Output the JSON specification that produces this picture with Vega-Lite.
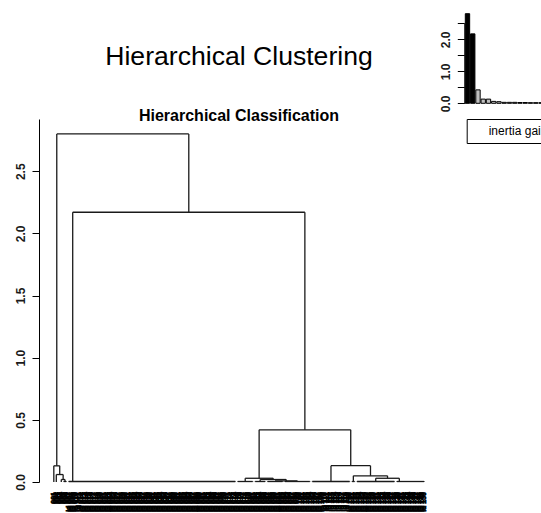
{
"$schema": "https://vega.github.io/schema/vega-lite/v6.json",
"width": 400,
"height": 363,
"autosize": {"type": "none"},
"padding": {"left": 39, "top": 119, "right": 102, "bottom": 31},
"background": "white",
"title": {"text": "Hierarchical Clustering", "subtitle": "Hierarchical Classification", "anchor": "middle", "frame": "group", "font": "Liberation Sans", "fontSize": 26.6, "fontWeight": "normal", "color": "black", "subtitleFont": "Liberation Sans", "subtitleFontSize": 16, "subtitleFontWeight": "bold", "subtitleColor": "black", "subtitlePadding": 38, "offset": -113.5},
"config": {"view": {"stroke": null}, "axis": {"labelFont": "Liberation Sans", "labelFontSize": 12, "labelFontWeight": "bold", "labelColor": "#1a1a1a", "domainColor": "black", "tickColor": "black", "tickSize": 7, "labelAngle": 270, "labelPadding": 5, "grid": false}},
"datasets": {
"merges": [
{"l": 2.19, "r": 55.3, "h": 2.80, "hl": 0.13, "hr": 2.17},
{"l": 8.6, "r": 102.0, "h": 2.17, "hl": 0.004, "hr": 0.42},
{"l": 83.6, "r": 120.45, "h": 0.42, "hl": 0.03, "hr": 0.131},
{"l": 78, "r": 89.25, "h": 0.03, "hl": 0.004, "hr": 0.02},
{"l": 84, "r": 94.5, "h": 0.02, "hl": 0.004, "hr": 0.009},
{"l": 90, "r": 99, "h": 0.009, "hl": 0.004, "hr": 0.004},
{"l": 112.5, "r": 128.4, "h": 0.131, "hl": 0.004, "hr": 0.05},
{"l": 121.5, "r": 135.25, "h": 0.05, "hl": 0.004, "hr": 0.03},
{"l": 130.5, "r": 140, "h": 0.03, "hl": 0.004, "hr": 0.004},
{"l": 1, "r": 3.375, "h": 0.13, "hl": 0, "hr": 0.06},
{"l": 2, "r": 4.75, "h": 0.06, "hl": 0, "hr": 0.02},
{"l": 4, "r": 5.5, "h": 0.02, "hl": 0, "hr": 0.004},
{"l": 5, "r": 6, "h": 0.004, "hl": 0, "hr": 0},
{"l": 7, "r": 74, "h": 0.004, "hl": 0, "hr": 0},
{"l": 75, "r": 81, "h": 0.004, "hl": 0, "hr": 0},
{"l": 82, "r": 86, "h": 0.004, "hl": 0, "hr": 0},
{"l": 87, "r": 93, "h": 0.004, "hl": 0, "hr": 0},
{"l": 94, "r": 104, "h": 0.004, "hl": 0, "hr": 0},
{"l": 105, "r": 120, "h": 0.004, "hl": 0, "hr": 0},
{"l": 121, "r": 122, "h": 0.004, "hl": 0, "hr": 0},
{"l": 123, "r": 138, "h": 0.004, "hl": 0, "hr": 0},
{"l": 139, "r": 150, "h": 0.004, "hl": 0, "hr": 0}
],
"gain": [
{"k": 1, "gain": 2.80, "cls": "cut"},
{"k": 2, "gain": 2.17, "cls": "cut"},
{"k": 3, "gain": 0.42, "cls": "other"},
{"k": 4, "gain": 0.131, "cls": "other"},
{"k": 5, "gain": 0.13, "cls": "other"},
{"k": 6, "gain": 0.06, "cls": "other"},
{"k": 7, "gain": 0.05, "cls": "other"},
{"k": 8, "gain": 0.03, "cls": "other"},
{"k": 9, "gain": 0.03, "cls": "other"},
{"k": 10, "gain": 0.03, "cls": "other"},
{"k": 11, "gain": 0.025, "cls": "other"},
{"k": 12, "gain": 0.025, "cls": "other"},
{"k": 13, "gain": 0.02, "cls": "other"},
{"k": 14, "gain": 0.02, "cls": "other"},
{"k": 15, "gain": 0.02, "cls": "other"},
{"k": 16, "gain": 0.02, "cls": "other"},
{"k": 17, "gain": 0.015, "cls": "other"},
{"k": 18, "gain": 0.015, "cls": "other"},
{"k": 19, "gain": 0.012, "cls": "other"},
{"k": 20, "gain": 0.012, "cls": "other"}
],
"leaves": [
{"leaf":1,"label":"001"},{"leaf":2,"label":"002"},{"leaf":3,"label":"003"},{"leaf":4,"label":"004"},{"leaf":5,"label":"005"},{"leaf":6,"label":"006"},
{"leaf":7,"label":"id 007"},{"leaf":8,"label":"id 008"},{"leaf":9,"label":"id 009"},{"leaf":10,"label":"id 010"},
{"leaf":11,"label":"id 011"},{"leaf":12,"label":"id 012"},{"leaf":13,"label":"id 013"},{"leaf":14,"label":"id 014"},{"leaf":15,"label":"id 015"},
{"leaf":16,"label":"id 016"},{"leaf":17,"label":"id 017"},{"leaf":18,"label":"id 018"},{"leaf":19,"label":"id 019"},{"leaf":20,"label":"id 020"},
{"leaf":21,"label":"id 021"},{"leaf":22,"label":"id 022"},{"leaf":23,"label":"id 023"},{"leaf":24,"label":"id 024"},{"leaf":25,"label":"id 025"},
{"leaf":26,"label":"id 026"},{"leaf":27,"label":"id 027"},{"leaf":28,"label":"id 028"},{"leaf":29,"label":"id 029"},{"leaf":30,"label":"id 030"},
{"leaf":31,"label":"id 031"},{"leaf":32,"label":"id 032"},{"leaf":33,"label":"id 033"},{"leaf":34,"label":"id 034"},{"leaf":35,"label":"id 035"},
{"leaf":36,"label":"id 036"},{"leaf":37,"label":"id 037"},{"leaf":38,"label":"id 038"},{"leaf":39,"label":"id 039"},{"leaf":40,"label":"id 040"},
{"leaf":41,"label":"id 041"},{"leaf":42,"label":"id 042"},{"leaf":43,"label":"id 043"},{"leaf":44,"label":"id 044"},{"leaf":45,"label":"id 045"},
{"leaf":46,"label":"id 046"},{"leaf":47,"label":"id 047"},{"leaf":48,"label":"id 048"},{"leaf":49,"label":"id 049"},{"leaf":50,"label":"id 050"},
{"leaf":51,"label":"id 051"},{"leaf":52,"label":"id 052"},{"leaf":53,"label":"id 053"},{"leaf":54,"label":"id 054"},{"leaf":55,"label":"id 055"},
{"leaf":56,"label":"id 056"},{"leaf":57,"label":"id 057"},{"leaf":58,"label":"id 058"},{"leaf":59,"label":"id 059"},{"leaf":60,"label":"id 060"},
{"leaf":61,"label":"id 061"},{"leaf":62,"label":"id 062"},{"leaf":63,"label":"id 063"},{"leaf":64,"label":"id 064"},{"leaf":65,"label":"id 065"},
{"leaf":66,"label":"id 066"},{"leaf":67,"label":"id 067"},{"leaf":68,"label":"id 068"},{"leaf":69,"label":"id 069"},{"leaf":70,"label":"id 070"},
{"leaf":71,"label":"id 071"},{"leaf":72,"label":"id 072"},{"leaf":73,"label":"id 073"},{"leaf":74,"label":"id 074"},{"leaf":75,"label":"id 075"},
{"leaf":76,"label":"id 076"},{"leaf":77,"label":"id 077"},{"leaf":78,"label":"id 078"},{"leaf":79,"label":"id 079"},{"leaf":80,"label":"id 080"},
{"leaf":81,"label":"id 081"},{"leaf":82,"label":"id 082"},{"leaf":83,"label":"id 083"},{"leaf":84,"label":"id 084"},{"leaf":85,"label":"id 085"},
{"leaf":86,"label":"id 086"},{"leaf":87,"label":"id 087"},{"leaf":88,"label":"id 088"},{"leaf":89,"label":"id 089"},{"leaf":90,"label":"id 090"},
{"leaf":91,"label":"id 091"},{"leaf":92,"label":"id 092"},{"leaf":93,"label":"id 093"},{"leaf":94,"label":"id 094"},{"leaf":95,"label":"id 095"},
{"leaf":96,"label":"id 096"},{"leaf":97,"label":"id 097"},{"leaf":98,"label":"id 098"},{"leaf":99,"label":"id 099"},{"leaf":100,"label":"id 100"},
{"leaf":101,"label":"id 101"},{"leaf":102,"label":"id 102"},{"leaf":103,"label":"id 103"},{"leaf":104,"label":"id 104"},{"leaf":105,"label":"id 105"},
{"leaf":106,"label":"id 106"},{"leaf":107,"label":"id 107"},{"leaf":108,"label":"id 108"},{"leaf":109,"label":"id 109"},{"leaf":110,"label":"id 110"},
{"leaf":111,"label":"id 111"},{"leaf":112,"label":"id 112"},{"leaf":113,"label":"id 113"},{"leaf":114,"label":"id 114"},{"leaf":115,"label":"id 115"},
{"leaf":116,"label":"id 116"},{"leaf":117,"label":"id 117"},{"leaf":118,"label":"id 118"},{"leaf":119,"label":"id 119"},{"leaf":120,"label":"id 120"},
{"leaf":121,"label":"id 121"},{"leaf":122,"label":"id 122"},{"leaf":123,"label":"id 123"},{"leaf":124,"label":"id 124"},{"leaf":125,"label":"id 125"},
{"leaf":126,"label":"id 126"},{"leaf":127,"label":"id 127"},{"leaf":128,"label":"id 128"},{"leaf":129,"label":"id 129"},{"leaf":130,"label":"id 130"},
{"leaf":131,"label":"id 131"},{"leaf":132,"label":"id 132"},{"leaf":133,"label":"id 133"},{"leaf":134,"label":"id 134"},{"leaf":135,"label":"id 135"},
{"leaf":136,"label":"id 136"},{"leaf":137,"label":"id 137"},{"leaf":138,"label":"id 138"},{"leaf":139,"label":"id 139"},{"leaf":140,"label":"id 140"},
{"leaf":141,"label":"id 141"},{"leaf":142,"label":"id 142"},{"leaf":143,"label":"id 143"},{"leaf":144,"label":"id 144"},{"leaf":145,"label":"id 145"},
{"leaf":146,"label":"id 146"},{"leaf":147,"label":"id 147"},{"leaf":148,"label":"id 148"},{"leaf":149,"label":"id 149"},{"leaf":150,"label":"id 150"}
]
},
"layer": [
{
"layer": [
{"data": {"name": "merges"},
 "mark": {"type": "rule", "stroke": "#1a1a1a", "strokeWidth": 1.3},
 "encoding": {
  "x": {"field": "l", "type": "quantitative", "scale": {"domain": [-4.96, 155.96], "nice": false, "zero": false}, "axis": null},
  "x2": {"field": "r"},
  "y": {"field": "h", "type": "quantitative", "scale": {"domain": [0, 2.92], "nice": false, "zero": true}, "axis": {"orient": "left", "values": [0, 0.5, 1, 1.5, 2, 2.5], "format": ".1f", "title": null}}
 }},
{"data": {"name": "merges"},
 "mark": {"type": "rule", "stroke": "#1a1a1a", "strokeWidth": 1.3},
 "encoding": {
  "x": {"field": "l", "type": "quantitative", "scale": {"domain": [-4.96, 155.96], "nice": false, "zero": false}, "axis": null},
  "y": {"field": "hl", "type": "quantitative", "scale": {"domain": [0, 2.92], "nice": false, "zero": true}, "axis": {"orient": "left", "values": [0, 0.5, 1, 1.5, 2, 2.5], "format": ".1f", "title": null}},
  "y2": {"field": "h"}
 }},
{"data": {"name": "merges"},
 "mark": {"type": "rule", "stroke": "#1a1a1a", "strokeWidth": 1.3},
 "encoding": {
  "x": {"field": "r", "type": "quantitative", "scale": {"domain": [-4.96, 155.96], "nice": false, "zero": false}, "axis": null},
  "y": {"field": "hr", "type": "quantitative", "scale": {"domain": [0, 2.92], "nice": false, "zero": true}, "axis": {"orient": "left", "values": [0, 0.5, 1, 1.5, 2, 2.5], "format": ".1f", "title": null}},
  "y2": {"field": "h"}
 }},
{"data": {"name": "leaves"},
 "mark": {"type": "text", "angle": 270, "align": "right", "baseline": "middle", "font": "Liberation Sans", "fontSize": 7, "fontWeight": "bold", "fill": "black", "stroke": "black", "strokeWidth": 0.7, "yOffset": 10},
 "encoding": {
  "x": {"field": "leaf", "type": "quantitative", "scale": {"domain": [-4.96, 155.96], "nice": false, "zero": false}, "axis": null},
  "y": {"datum": 0, "type": "quantitative", "scale": {"domain": [0, 2.92], "nice": false, "zero": true}, "axis": {"orient": "left", "values": [0, 0.5, 1, 1.5, 2, 2.5], "format": ".1f", "title": null}},
  "text": {"field": "label"}
 }}
]
},
{
"data": {"name": "gain"},
"layer": [
{"mark": {"type": "bar", "stroke": "black", "strokeWidth": 1},
 "encoding": {
  "x": {"field": "k", "type": "ordinal", "scale": {"type": "band", "range": [426.3, 530.4], "paddingInner": 0.17, "paddingOuter": 0}, "axis": null},
  "y": {"field": "gain", "type": "quantitative", "scale": {"domain": [0, 2.5], "range": [-15.7, -95.7], "nice": false, "zero": true}, "axis": {"orient": "left", "offset": -425.3, "values": [0, 0.5, 1, 1.5, 2, 2.5], "labelExpr": "datum.value % 1 === 0 ? format(datum.value, '.1f') : ''", "title": null}},
  "fill": {"field": "cls", "type": "nominal", "scale": {"domain": ["cut", "other"], "range": ["black", "#bebebe"]}, "legend": null}
 }},
{"mark": {"type": "point", "opacity": 0},
 "encoding": {
  "x": {"field": "k", "type": "ordinal", "scale": {"type": "band", "range": [426.3, 530.4], "paddingInner": 0.17, "paddingOuter": 0}, "axis": null},
  "y": {"field": "gain", "type": "quantitative", "scale": {"domain": [0, 2.5], "range": [-15.7, -95.7], "nice": false, "zero": true}, "axis": {"orient": "left", "offset": -425.3, "values": [0, 0.5, 1, 1.5, 2, 2.5], "labelExpr": "datum.value % 1 === 0 ? format(datum.value, '.1f') : ''", "title": null}},
  "color": {"datum": "inertia gain", "type": "nominal", "scale": {"range": ["black"]}, "legend": {"orient": "none", "legendX": 427.7, "legendY": 0, "title": null, "strokeColor": "black", "fillColor": "white", "padding": 6, "labelFont": "Liberation Sans", "labelFontSize": 12, "labelColor": "black", "symbolOpacity": 0, "symbolSize": 49, "labelOffset": 4, "cornerRadius": 0}}
 }}
]
}
],
"resolve": {"scale": {"x": "independent", "y": "independent"}, "axis": {"x": "independent", "y": "independent"}}
}
